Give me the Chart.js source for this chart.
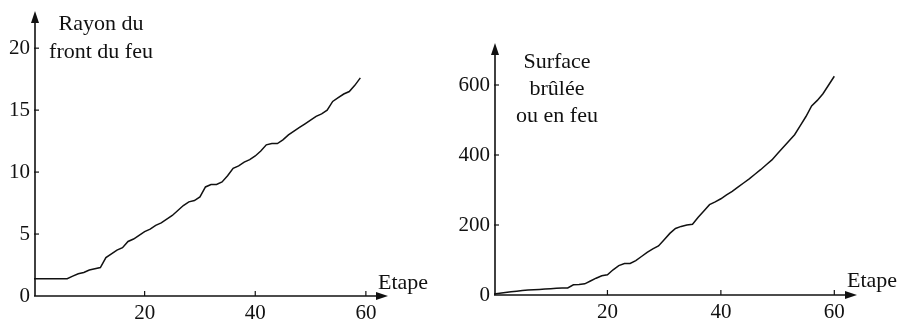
<!DOCTYPE html>
<html><head><meta charset="utf-8">
<script src="https://cdn.jsdelivr.net/npm/chart.js@4/dist/chart.umd.min.js"></script>
<style>
html,body{margin:0;padding:0;background:#fff;width:907px;height:324px;overflow:hidden}
.box{position:absolute;top:0;height:324px}
canvas{display:block}
</style></head><body>
<div class="box" style="left:0;width:450px"><canvas id="c1" width="450" height="324"></canvas></div>
<div class="box" style="left:450px;width:457px"><canvas id="c2" width="457" height="324"></canvas></div>
<script>
// ---- data ----
const steps1 = [0,1,2,3,4,5,6,7,8,9,10,11,12,13,14,15,16,17,18,19,20,21,22,23,24,25,26,27,28,29,30,31,32,33,34,35,36,37,38,39,40,41,42,43,44,45,46,47,48,49,50,51,52,53,54,55,56,57,58,59];
const radius = [1.4,1.4,1.4,1.4,1.4,1.4,1.4,1.6,1.8,1.9,2.1,2.2,2.3,3.1,3.4,3.7,3.9,4.4,4.6,4.9,5.2,5.4,5.7,5.9,6.2,6.5,6.9,7.3,7.6,7.7,8.0,8.8,9.0,9.0,9.2,9.7,10.3,10.5,10.8,11.0,11.3,11.7,12.2,12.3,12.3,12.6,13.0,13.3,13.6,13.9,14.2,14.5,14.7,15.0,15.7,16.0,16.3,16.5,17.0,17.6];
const steps2 = [0,1,2,3,4,5,6,7,8,9,10,11,12,13,14,15,16,17,18,19,20,21,22,23,24,25,26,27,28,29,30,31,32,33,34,35,36,37,38,39,40,41,42,43,44,45,46,47,48,49,50,51,52,53,54,55,56,57,58,59,60];
const area = [3,5,7,9,11,13,14,15,16,17,18,19,20,20,29,30,32,40,48,55,58,72,84,90,90,98,110,122,132,140,158,176,190,196,200,202,222,240,258,266,275,286,296,308,320,332,345,358,372,386,404,422,440,458,484,510,540,556,575,600,625];
const radiusTicksY = [0,5,10,15,20];
const areaTicksY = [0,200,400,600];
const stepTicksX = [20,40,60];
const radiusLabel = ['Rayon du','front du feu'];
const areaLabel = ['Surface','brûlée','ou en feu'];
const xLabel = 'Etape';

const INK = '#111';
const TICK_FONT = {family:'"Liberation Serif", serif', size:21};
const LABEL_FONT = '22px "Liberation Serif", serif';

const axesPlugin = {
  id:'axes',
  afterDraw(chart, args, o) {
    const {ctx, chartArea:{left,top,right}, scales:{x,y}} = chart;
    const x0 = x.getPixelForValue(0), y0 = y.getPixelForValue(0);
    ctx.save();
    ctx.strokeStyle = INK; ctx.fillStyle = INK; ctx.lineWidth = 1.6;
    ctx.beginPath(); ctx.moveTo(x0, y0); ctx.lineTo(right-6, y0); ctx.stroke();
    ctx.beginPath(); ctx.moveTo(right, y0); ctx.lineTo(right-12, y0-4); ctx.lineTo(right-12, y0+4); ctx.closePath(); ctx.fill();
    ctx.beginPath(); ctx.moveTo(x0+1, y0); ctx.lineTo(x0+1, top+6); ctx.stroke();
    ctx.beginPath(); ctx.moveTo(x0+1, top); ctx.lineTo(x0+1-4, top+12); ctx.lineTo(x0+1+4, top+12); ctx.closePath(); ctx.fill();
    ctx.lineWidth = 1.2;
    o.xt.forEach(v => { const p = x.getPixelForValue(v); ctx.beginPath(); ctx.moveTo(p, y0); ctx.lineTo(p, y0-5); ctx.stroke(); });
    o.yt.forEach(v => { if (v === 0) return; const p = y.getPixelForValue(v); ctx.beginPath(); ctx.moveTo(x0, p); ctx.lineTo(x0+5, p); ctx.stroke(); });
    ctx.font = LABEL_FONT; ctx.textAlign = 'center'; ctx.textBaseline = 'alphabetic';
    o.lines.forEach((t,i) => ctx.fillText(t, left + o.dx, top + o.dy + i*o.lh));
    ctx.textAlign = 'left';
    ctx.fillText(xLabel, right + o.ex, y0 + o.ey);
    ctx.restore();
  }
};

function makeChart(id, xs, ys, yMax, yTicks, pad, yWidth, xHeight, plugOpts) {
  return new Chart(document.getElementById(id), {
    type:'line',
    data:{datasets:[{data: xs.map((v,i)=>({x:v, y:ys[i]})), borderColor:INK, borderWidth:1.5, pointRadius:0, fill:false, tension:0}]},
    options:{
      responsive:false, animation:false, events:[],
      layout:{padding:pad},
      plugins:{legend:{display:false}, tooltip:{enabled:false}, axes:plugOpts},
      scales:{
        x:{type:'linear', min:0, max:64,
          afterBuildTicks: s => { s.ticks = stepTicksX.map(v=>({value:v})); },
          grid:{display:false, drawTicks:false}, border:{display:false},
          ticks:{font:TICK_FONT, color:INK, padding:5, maxRotation:0, autoSkip:false},
          afterFit: s => { s.height = xHeight; s.paddingLeft = 0; s.paddingRight = 0; }
        },
        y:{type:'linear', min:0, max:yMax,
          afterBuildTicks: s => { s.ticks = yTicks.map(v=>({value:v})); },
          grid:{display:false, drawTicks:false}, border:{display:false},
          ticks:{font:TICK_FONT, color:INK, padding:4, autoSkip:false},
          afterFit: s => { s.width = yWidth; s.paddingTop = 0; s.paddingBottom = 0; }
        }
      }
    },
    plugins:[axesPlugin]
  });
}

makeChart('c1', steps1, radius, 23, radiusTicksY, {left:0, top:11, right:62, bottom:0}, 34, 28,
  {xt:stepTicksX, yt:radiusTicksY, lines:radiusLabel, dx:67, dy:19, lh:28, ex:-10, ey:-7});
makeChart('c2', steps2, area, 720, areaTicksY, {left:0, top:43, right:50, bottom:0}, 44, 29,
  {xt:stepTicksX, yt:areaTicksY, lines:areaLabel, dx:63, dy:25, lh:27, ex:-10, ey:-8});
</script>
</body></html>
